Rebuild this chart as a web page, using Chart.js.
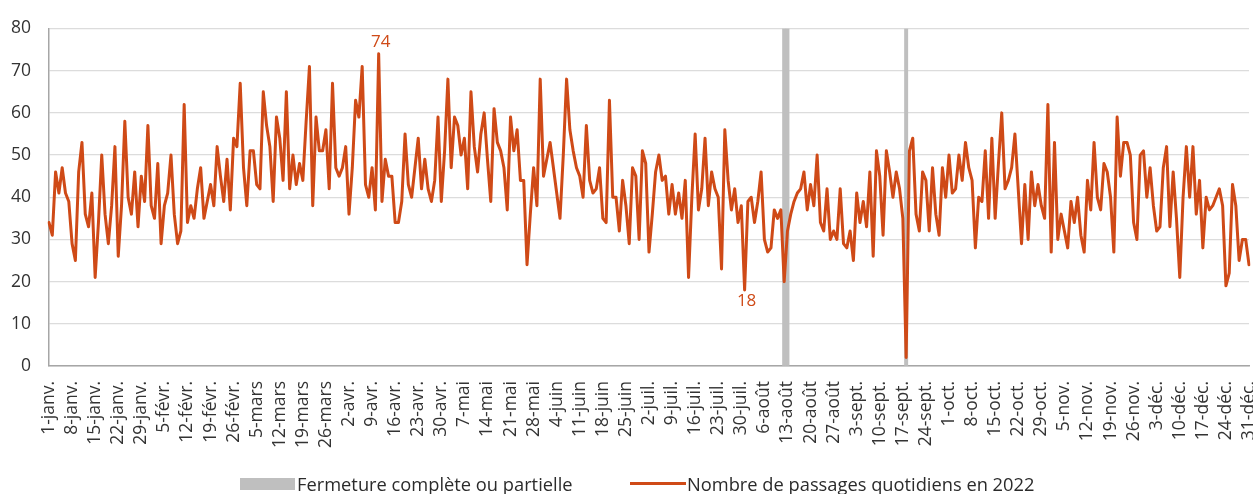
<!DOCTYPE html>
<html lang="fr">
<head>
<meta charset="utf-8">
<script src="https://cdn.jsdelivr.net/npm/chart.js@4.4.1/dist/chart.umd.min.js"></script>
<style>
    body { margin: 0; background: #fff; font-family: 'Open Sans', sans-serif; }
    #wrap { position: relative; width: 1253px; height: 494px; }
    #legend { position: absolute; left: 0; top: 472px; width: 1253px; height: 24px; font-size: 18.3px; color: #2b2b2b; }
    .item { position: absolute; top: 0; line-height: 24px; white-space: nowrap; }
    .swatch-bar { position: absolute; top: 6px; width: 55px; height: 12px; background: #bfbfbf; }
    .swatch-line { position: absolute; top: 10px; width: 56px; height: 3px; background: #cf4a17; }
</style>
</head>
<body>
<div id="wrap">
    <canvas id="passagesChart"></canvas>
    <div id="legend">
        <span class="swatch-bar" style="left:240px"></span>
        <span class="item" style="left:297px">Fermeture complète ou partielle</span>
        <span class="swatch-line" style="left:630px"></span>
        <span class="item" style="left:687px">Nombre de passages quotidiens en 2022</span>
    </div>
</div>
<script>
// months and days (2022)
const monthNames = ['janv.', 'févr.', 'mars', 'avr.', 'mai', 'juin', 'juil.', 'août', 'sept.', 'oct.', 'nov.', 'déc.']
const monthLengths = [31, 28, 31, 30, 31, 30, 31, 31, 30, 31, 30, 31]

// daily passages, one array per month
const janv = [34, 31, 46, 41, 47, 41, 39, 29, 25, 46, 53, 36, 33, 41, 21, 34, 50, 36, 29, 38, 52, 26, 38, 58, 40, 36, 46, 33, 45, 39, 57]
const fevr = [38, 35, 48, 29, 38, 41, 50, 36, 29, 32, 62, 34, 38, 35, 42, 47, 35, 39, 43, 38, 52, 45, 39, 49, 37, 54, 52, 67]
const mars = [47, 38, 51, 51, 43, 42, 65, 57, 52, 39, 59, 54, 44, 65, 42, 50, 43, 48, 44, 58, 71, 38, 59, 51, 51, 56, 42, 67, 47, 45, 47]
const avr = [52, 36, 47, 63, 59, 71, 43, 40, 47, 37, 74, 39, 49, 45, 45, 34, 34, 39, 55, 43, 40, 47, 54, 42, 49, 42, 39, 44, 59, 39]
const mai = [51, 68, 47, 59, 57, 50, 54, 42, 65, 52, 46, 55, 60, 49, 39, 61, 53, 51, 47, 37, 59, 51, 56, 44, 44, 24, 36, 47, 38, 68, 45]
const juin = [49, 53, 47, 41, 35, 50, 68, 56, 51, 47, 45, 40, 57, 44, 41, 42, 47, 35, 34, 63, 40, 40, 32, 44, 38, 29, 47, 45, 30, 51]
const juil = [48, 27, 36, 46, 50, 44, 45, 36, 43, 36, 41, 35, 44, 21, 40, 55, 37, 42, 54, 38, 46, 42, 40, 23, 56, 44, 37, 42, 34, 38, 18]
const aout = [39, 40, 34, 39, 46, 30, 27, 28, 37, 35, 37, 20, 32, 36, 39, 41, 42, 46, 37, 43, 38, 50, 34, 32, 42, 30, 32, 30, 42, 29, 28]
const sept = [32, 25, 41, 34, 39, 33, 46, 26, 51, 45, 31, 51, 46, 40, 46, 42, 35, 2, 51, 54, 36, 32, 46, 44, 32, 47, 36, 31, 47, 40]
const oct = [50, 41, 42, 50, 44, 53, 47, 44, 28, 40, 39, 51, 35, 54, 35, 48, 60, 42, 44, 47, 55, 42, 29, 43, 30, 46, 38, 43, 38, 35, 62]
const nov = [27, 53, 30, 36, 32, 28, 39, 34, 40, 31, 27, 44, 37, 53, 40, 37, 48, 46, 40, 27, 59, 45, 53, 53, 50, 34, 30, 50, 51, 40]
const dec = [47, 38, 32, 33, 47, 52, 33, 46, 35, 21, 40, 52, 40, 52, 36, 44, 28, 40, 37, 38, 40, 42, 38, 19, 22, 43, 38, 25, 30, 30, 24]

// closures
const closureDays = ['12-août', '13-août', '18-sept.']
const closureHeight = 80

// y axis
const yMin = 0
const yMax = 80
const yStep = 10

// values written on the chart
const annotated = [
    { label: '11-avr.', side: 'above' },
    { label: '31-juil.', side: 'below' }
]

const orange = '#cf4a17'
const grey = '#bfbfbf'

const days = []
monthNames.forEach((m, i) => {
    for (let d = 1; d <= monthLengths[i]; d++) days.push(`${d}-${m}`)
})
const passages = [].concat(janv, fevr, mars, avr, mai, juin, juil, aout, sept, oct, nov, dec)
const fermeture = days.map(d => closureDays.includes(d) ? closureHeight : null)

// write the annotated values next to their points
const valueLabels = {
    id: 'valueLabels',
    afterDatasetsDraw(chart) {
        const ctx = chart.ctx
        const meta = chart.getDatasetMeta(0)
        ctx.save()
        ctx.font = '17px "Open Sans"'
        ctx.fillStyle = orange
        ctx.textAlign = 'center'
        annotated.forEach(a => {
            const i = days.indexOf(a.label)
            const pt = meta.data[i]
            if (a.side == 'above') {
                ctx.textBaseline = 'bottom'
                ctx.fillText(passages[i], pt.x + 2, pt.y - 3)
            } else {
                ctx.textBaseline = 'top'
                ctx.fillText(passages[i], pt.x + 2, pt.y + 3)
            }
        })
        ctx.restore()
    }
}

new Chart(document.getElementById('passagesChart'), {
    type: 'line',
    data: {
        labels: days,
        datasets: [
            {
                type: 'line',
                label: 'Nombre de passages quotidiens en 2022',
                data: passages,
                borderColor: orange,
                backgroundColor: orange,
                borderWidth: 3,
                borderJoinStyle: 'round',
                borderCapStyle: 'round',
                pointRadius: 0,
                tension: 0
            },
            {
                type: 'bar',
                label: 'Fermeture complète ou partielle',
                data: fermeture,
                backgroundColor: grey,
                categoryPercentage: 1,
                barPercentage: 1
            }
        ]
    },
    options: {
        responsive: true,
        maintainAspectRatio: false,
        animation: false,
        layout: { padding: { top: 19, right: 4, left: 0, bottom: 0 } },
        plugins: {
            legend: { display: false },
            tooltip: { enabled: false }
        },
        scales: {
            x: {
                offset: false,
                grid: { display: false, drawTicks: false },
                border: { display: true, color: '#a6a6a6', width: 1.5 },
                ticks: {
                    autoSkip: false,
                    maxRotation: 90,
                    minRotation: 90,
                    padding: 15,
                    color: '#333',
                    font: { family: 'Open Sans', size: 17.5 },
                    callback: function (value, index) {
                        return index % 7 === 0 ? days[index] : null
                    }
                },
                afterFit: function (scale) {
                    scale.height = 128
                    scale.paddingLeft = 0
                    scale.paddingRight = 0
                }
            },
            y: {
                min: yMin,
                max: yMax,
                grid: { color: '#dcdcdc', lineWidth: 1.25, drawTicks: false },
                border: { display: true, color: '#a6a6a6', width: 1.5 },
                ticks: {
                    stepSize: yStep,
                    padding: 18,
                    color: '#333',
                    font: { family: 'Open Sans', size: 17.5 }
                },
                afterFit: function (scale) {
                    scale.width = 49
                }
            }
        }
    },
    plugins: [valueLabels]
})
</script>
</body>
</html>
